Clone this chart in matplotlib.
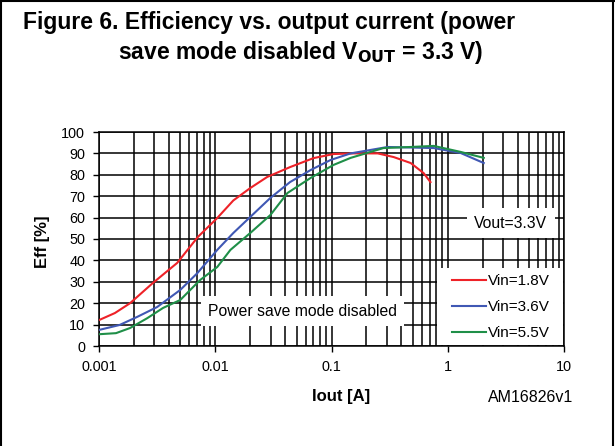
import matplotlib.pyplot as plt
from matplotlib.ticker import NullFormatter, LogLocator
from matplotlib.patches import Rectangle
import numpy as np

plt.rcParams['font.family'] = ['Liberation Sans', 'DejaVu Sans']

# Vin = 1.8 V
iout_18 = [0.001, 0.00137, 0.00185, 0.0029, 0.0047, 0.0071, 0.0104, 0.0143, 0.020,
           0.028, 0.044, 0.070, 0.104, 0.155, 0.25, 0.342, 0.48, 0.62, 0.71]
eff_18 = [12.1, 15.4, 20, 29.4, 38.8, 51, 59.8, 68, 73.8,
          79, 83.6, 87.8, 89.7, 90, 90, 88.3, 85.5, 80.8, 76.6]

# Vin = 3.6 V
iout_36 = [0.001, 0.0015, 0.00213, 0.00316, 0.005, 0.007, 0.0104, 0.0143, 0.020,
           0.0298, 0.044, 0.066, 0.098, 0.146, 0.304, 0.757, 1.29, 2.04]
eff_36 = [7.5, 9.8, 13.6, 18.2, 26.2, 34, 44.9, 52.8, 60.3,
          69.2, 76.6, 82.2, 86.9, 90, 93, 92.5, 90.2, 85.5]

# Vin = 5.5 V
iout_55 = [0.001, 0.0014, 0.00185, 0.0026, 0.00356, 0.005, 0.0074, 0.0104, 0.0135,
           0.020, 0.0298, 0.0418, 0.066, 0.104, 0.146, 0.28, 0.48, 0.757, 1.29, 2.04]
eff_55 = [5.5, 6, 8.4, 13, 17.8, 21.5, 30.8, 36.9, 44.9,
          52.8, 61.2, 71.5, 78.5, 84.6, 87.9, 92.5, 93, 93.5, 90.7, 87.9]

x_ticks = [0.001, 0.01, 0.1, 1, 10]
x_labels = ['0.001', '0.01', '0.1', '1', '10']
y_ticks = list(range(0, 101, 10))

W, H = 615, 446
fig = plt.figure(figsize=(W/100, H/100), dpi=100)
ax = fig.add_axes([99/W, 1-346/H, 465/W, 214/H])

ax.plot(iout_18, eff_18, color='#ee2228', lw=1.5, label='Vin=1.8V', zorder=3)
ax.plot(iout_36, eff_36, color='#4058b4', lw=1.5, label='Vin=3.6V', zorder=3)
ax.plot(iout_55, eff_55, color='#1f8f48', lw=1.5, label='Vin=5.5V', zorder=3)

ax.set_xscale('log')
ax.set_xlim(0.001, 10)
ax.set_ylim(0, 100)
ax.set_xticks(x_ticks)
ax.set_xticklabels(x_labels)
ax.xaxis.set_minor_locator(LogLocator(base=10, subs=np.arange(2, 10)))
ax.xaxis.set_minor_formatter(NullFormatter())
ax.set_yticks(y_ticks)
ax.grid(True, which='both', axis='x', color='black', lw=1.1)
ax.grid(True, which='major', axis='y', color='black', lw=1.1)
ax.tick_params(axis='both', which='both', direction='out', length=4, width=1,
               labelsize=10.4, pad=6)
ax.tick_params(axis='x', which='minor', length=0)
for s in ax.spines.values():
    s.set_linewidth(1.1)

fig.text(312/W, 1-397/H, 'Iout [A]', ha='left', va='center', fontsize=12, fontweight='bold')
fig.text(42.5/W, 1-242/H, 'Eff [%]', ha='center', va='center', rotation=90,
         fontsize=12, fontweight='bold')

# text boxes
fig.text(511/W, 1-223/H, 'Vout=3.3V', ha='center', va='center', fontsize=11.3,
         bbox=dict(boxstyle='square,pad=0.45', fc='white', ec='none'), zorder=5)
fig.text(208/W, 1-311/H, 'Power save mode disabled', ha='left', va='center',
         fontsize=11.3, bbox=dict(boxstyle='square,pad=0.45', fc='white', ec='none'), zorder=5)

# white panel behind the legend
ax.add_patch(Rectangle((437/W, 1-345/H), 126/W, 77/H, transform=fig.transFigure,
                       fc='white', ec='none', zorder=2.5, clip_on=False))
leg = ax.legend(loc='upper left', bbox_to_anchor=(449/W, 1-271/H),
                bbox_transform=fig.transFigure, fontsize=11, frameon=False,
                handlelength=2.2, handletextpad=0.15, borderaxespad=0,
                borderpad=0.2, labelspacing=0.78)
leg.set_zorder(5)

fig.text(573/W, 1-397/H, 'AM16826v1', ha='right', va='center', fontsize=11.5)

fig.text(269/W, 1-22/H, 'Figure 6. Efficiency vs. output current (power',
         ha='center', va='center', fontsize=16.5, fontweight='bold')
fig.text(301/W, 1-52/H, r'save mode disabled V$_{\mathbf{OUT}}$ = 3.3 V)',
         ha='center', va='center', fontsize=16.5, fontweight='bold')

# outer frame
for xs, ys in [([0.002, 0.002], [0, 1]), ([0, 1], [0.998, 0.998]), ([0.997, 0.997], [0, 1])]:
    fig.add_artist(plt.Line2D(xs, ys, color='black', lw=1.5, transform=fig.transFigure))

fig.savefig('out.png', dpi=100)
